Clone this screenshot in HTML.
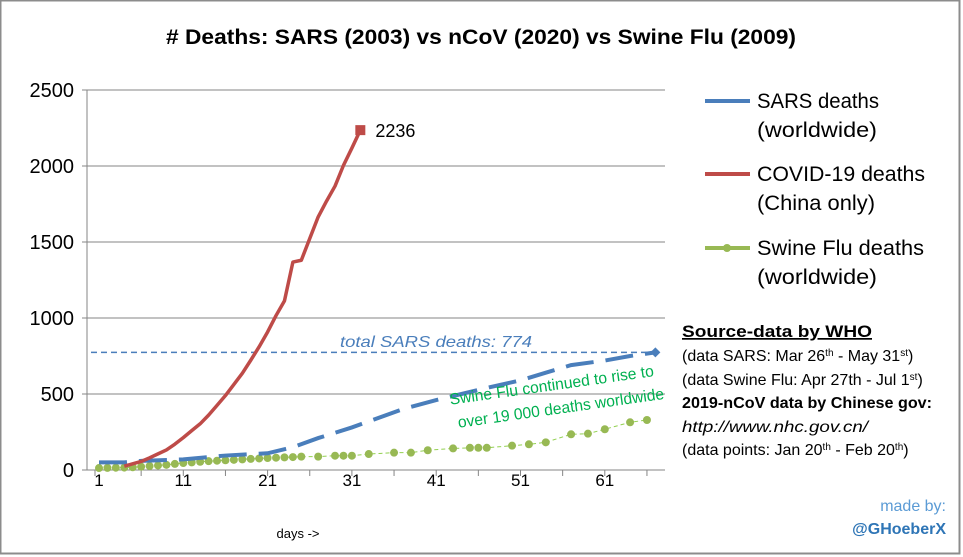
<!DOCTYPE html>
<html><head><meta charset="utf-8"><style>
body{margin:0;background:#fff;}
svg{display:block;font-family:"Liberation Sans",sans-serif;}
</style></head><body>
<svg id="chart" width="963" height="557" viewBox="0 0 963 557">
<rect x="0.5" y="0.5" width="959" height="553" fill="#fff" stroke="#8c8c8c" stroke-width="2"/>
<text x="166" y="44" textLength="630" lengthAdjust="spacingAndGlyphs" font-size="21" font-weight="bold" fill="#000"># Deaths: SARS (2003) vs nCoV (2020) vs Swine Flu (2009)</text>
<g id="grid"></g>
<g id="axes"></g>
<g id="series"></g>
<text x="298" y="538" text-anchor="middle" font-size="13">days -&gt;</text>
<text x="340" y="347" textLength="192" lengthAdjust="spacingAndGlyphs" font-size="16" font-style="italic" fill="#4a7ebb">total SARS deaths: 774</text>
<g transform="translate(556,402) rotate(-8)" fill="#00b050" font-size="16">
<text x="-105" y="-12" textLength="206" lengthAdjust="spacingAndGlyphs">Swine Flu continued to rise to</text>
<text x="-100" y="12" textLength="208" lengthAdjust="spacingAndGlyphs">over 19 000 deaths worldwide</text>
</g>
<g font-size="21" fill="#000">
<line x1="705" y1="101" x2="750" y2="101" stroke="#4a7ebb" stroke-width="4"/>
<text x="757" y="108" textLength="122" lengthAdjust="spacingAndGlyphs">SARS deaths</text>
<text x="757" y="137" textLength="120" lengthAdjust="spacingAndGlyphs">(worldwide)</text>
<line x1="705" y1="174" x2="750" y2="174" stroke="#be4b48" stroke-width="4"/>
<text x="757" y="181" textLength="168" lengthAdjust="spacingAndGlyphs">COVID-19 deaths</text>
<text x="757" y="210" textLength="118" lengthAdjust="spacingAndGlyphs">(China only)</text>
<line x1="705" y1="248" x2="750" y2="248" stroke="#98b954" stroke-width="4"/>
<circle cx="727" cy="248" r="4" fill="#98b954"/>
<text x="757" y="255" textLength="167" lengthAdjust="spacingAndGlyphs">Swine Flu deaths</text>
<text x="757" y="284" textLength="120" lengthAdjust="spacingAndGlyphs">(worldwide)</text>
</g>
<g font-size="16" fill="#000">
<text x="682" y="337" font-weight="bold" font-size="17" text-decoration="underline" textLength="190" lengthAdjust="spacingAndGlyphs">Source-data by WHO</text>
<text x="682" y="361" font-size="16">(data SARS: Mar 26<tspan font-size="10" dy="-5">th</tspan><tspan dy="5"> - May 31</tspan><tspan font-size="10" dy="-5">st</tspan><tspan dy="5">)</tspan></text>
<text x="682" y="385" font-size="16">(data Swine Flu: Apr 27th - Jul 1<tspan font-size="10" dy="-5">st</tspan><tspan dy="5">)</tspan></text>
<text x="682" y="408" font-weight="bold" textLength="250" lengthAdjust="spacingAndGlyphs">2019-nCoV data by Chinese gov:</text>
<text x="682" y="432" font-style="italic" textLength="186" lengthAdjust="spacingAndGlyphs">http://www.nhc.gov.cn/</text>
<text x="682" y="455" font-size="16">(data points: Jan 20<tspan font-size="10" dy="-5">th</tspan><tspan dy="5"> - Feb 20</tspan><tspan font-size="10" dy="-5">th</tspan><tspan dy="5">)</tspan></text>
</g>
<text x="946" y="511" text-anchor="end" font-size="16" fill="#5b9bd5">made by:</text>
<text x="946" y="534" text-anchor="end" font-size="16" font-weight="bold" fill="#2e75b6">@GHoeberX</text>
</svg>
<script>
const yTicks=[0,500,1000,1500,2000,2500];
const xTicks=[1,11,21,31,41,51,61];
const covidDays=[4,5,6,7,8,9,10,11,12,13,14,15,16,17,18,19,20,21,22,23,24,25,26,27,28,29,30,31,32];
const covidVals=[25,41,56,80,106,132,170,213,259,304,361,425,490,563,636,722,811,908,1016,1113,1368,1380,1523,1665,1770,1868,2004,2118,2236];
const sarsDays=[1,4,6,11,16,21,24,27,31,34,37,41,44,47,51,54,57,61,64,67];
const sarsVals=[50,50,60,70,95,110,150,210,280,340,400,460,500,540,590,640,690,720,750,774];
const swineDays=[1,2,3,4,5,6,7,8,9,10,11,12,13,14,15,16,17,18,19,20,21,22,23,24,25,27,29,30,31,33,36,38,40,43,45,46,47,50,52,54,57,59,61,64,66];
const swineVals=[13,14,15,16,18,22,26,30,34,40,46,50,54,58,61,64,67,70,73,76,79,81,83,85,88,88,94,94,94,105,114,114,130,142,146,146,146,160,169,182,235,239,268,314,329];
const sarsTotal=774;
const covidLabel="2236";

const NS="http://www.w3.org/2000/svg";
const X0=87,X1=665,Y0=470,Y1=90;
const xs=d=>99+(d-1)*8.43;
const ys=v=>Y0-(v/2500)*(Y0-Y1);
function mk(tag,attrs,parent){const e=document.createElementNS(NS,tag);for(const k in attrs)e.setAttribute(k,attrs[k]);parent.appendChild(e);return e;}
const grid=document.getElementById('grid'),axes=document.getElementById('axes'),ser=document.getElementById('series');
yTicks.forEach(v=>{
  if(v>0){const l=mk('line',{x1:X0,x2:X1,y1:ys(v),y2:ys(v),stroke:'#868686','stroke-width':1},grid);
  
  }
  mk('line',{x1:X0-5,x2:X0,y1:ys(v),y2:ys(v),stroke:'#868686'},axes);
  const t=mk('text',{x:74,y:ys(v)+7,'text-anchor':'end','font-size':20},axes);t.textContent=v;
  
  
});
mk('line',{x1:X0,x2:X0,y1:Y1,y2:Y0,stroke:'#868686'},axes);
mk('line',{x1:X0,x2:X1,y1:Y0,y2:Y0,stroke:'#868686'},axes);
for(let d=1;d<=67;d+=5){if((d-1)%5===0)mk('line',{x1:xs(d)+ (d===1?-4:0),x2:xs(d)+(d===1?-4:0),y1:Y0,y2:Y0+6,stroke:'#868686'},axes);}
xTicks.forEach(d=>{const t=mk('text',{x:xs(d),y:486,'text-anchor':'middle','font-size':17},axes);t.textContent=d;
  
  });
const tl=mk('line',{x1:X0+4,x2:xs(67),y1:ys(sarsTotal),y2:ys(sarsTotal),stroke:'#4a7ebb','stroke-width':1.5,'stroke-dasharray':'6,4'},ser);


const pts=(ds,vs)=>ds.map((d,i)=>xs(d)+','+ys(vs[i])).join(' ');
const sw=mk('polyline',{points:pts(swineDays,swineVals),fill:'none',stroke:'#92d050','stroke-width':1,'stroke-dasharray':'4,3'},ser);


swineDays.forEach((d,i)=>{const c=mk('circle',{cx:xs(d),cy:ys(swineVals[i]),r:4,fill:'#98b954'},ser);
  
  });
const sa=mk('polyline',{points:pts(sarsDays,sarsVals),fill:'none',stroke:'#4a7ebb','stroke-width':4,'stroke-dasharray':'28,12'},ser);


const lx=xs(sarsDays[sarsDays.length-1]),ly=ys(sarsVals[sarsVals.length-1]);
const dm=mk('polygon',{points:`${lx-5},${ly} ${lx},${ly-5} ${lx+5},${ly} ${lx},${ly+5}`,fill:'#4a7ebb'},ser);


const co=mk('polyline',{points:pts(covidDays,covidVals),fill:'none',stroke:'#be4b48','stroke-width':3.5,'stroke-linejoin':'round'},ser);


const cx=xs(covidDays[covidDays.length-1]),cy=ys(covidVals[covidVals.length-1]);
const sq=mk('rect',{x:cx-5,y:cy-5,width:10,height:10,fill:'#be4b48'},ser);


const cl=mk('text',{x:cx+15,y:cy+7,'font-size':18},ser);cl.textContent=covidLabel;


</script>
</body></html>
